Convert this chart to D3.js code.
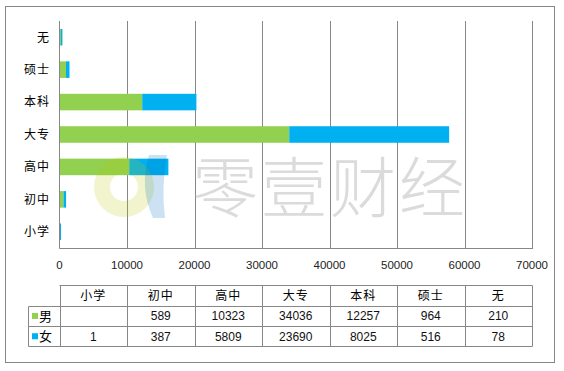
<!DOCTYPE html>
<html>
<head>
<meta charset="utf-8">
<script src="https://cdn.jsdelivr.net/npm/d3@7"></script>
<style>
  body { margin: 0; background: #fff; }
  text { font-family: "Noto Sans CJK SC", sans-serif; }
  .num { font-family: "Liberation Sans", Arial, sans-serif; }
</style>
</head>
<body>
<div id="chart"></div>
<script>
// categories bottom -> top as in the table
var categories = ["小学", "初中", "高中", "大专", "本科", "硕士", "无"];
var series = ["男", "女"];
var male = [null, 589, 10323, 34036, 12257, 964, 210];
var female = [1, 387, 5809, 23690, 8025, 516, 78];
var ticks = [0, 10000, 20000, 30000, 40000, 50000, 60000, 70000];
var colors = ["#92D050", "#00B0F0"];

var width = 564, height = 371;
var plot = {left: 59.5, right: 532, top: 21, bottom: 248};
var gridColor = "#878787";

var svg = d3.select("#chart").append("svg")
    .attr("width", width)
    .attr("height", height);

// outer frame
svg.append("rect")
    .attr("x", 5.5).attr("y", 6.5)
    .attr("width", 549).attr("height", 356)
    .attr("fill", "#fff")
    .attr("stroke", gridColor);

var x = d3.scaleLinear().domain([0, 70000]).range([plot.left, plot.right]);
var y = d3.scaleBand()
    .domain(categories.slice().reverse())
    .range([plot.top, plot.bottom])
    .paddingInner(0.49)
    .paddingOuter(0.245);

// gridlines
svg.append("g").selectAll("line")
    .data(ticks.slice(1))
    .join("line")
    .attr("x1", d => Math.round(x(d)) + 0.5)
    .attr("x2", d => Math.round(x(d)) + 0.5)
    .attr("y1", plot.top)
    .attr("y2", plot.bottom)
    .attr("stroke", gridColor);

// stacked bars
var rows = categories.map(function(c, i) {
    return {cat: c, "男": male[i] || 0, "女": female[i] || 0};
});
var stacked = d3.stack().keys(series)(rows);

svg.append("g").selectAll("g")
    .data(stacked)
    .join("g")
    .attr("fill", (d, i) => colors[i])
    .selectAll("rect")
    .data(d => d)
    .join("rect")
    .attr("x", d => x(d[0]))
    .attr("y", d => y(d.data.cat))
    .attr("height", y.bandwidth())
    .attr("width", function(d) {
        var w = x(d[1]) - x(d[0]);
        return (d[1] - d[0]) > 0 ? Math.max(1.5, w) : 0;
    });

// axes lines
svg.append("line")
    .attr("x1", plot.left).attr("x2", plot.left)
    .attr("y1", plot.top).attr("y2", plot.bottom + 0.5)
    .attr("stroke", gridColor);
svg.append("line")
    .attr("x1", plot.left).attr("x2", plot.right + 1)
    .attr("y1", plot.bottom + 0.5).attr("y2", plot.bottom + 0.5)
    .attr("stroke", gridColor);

// category labels
svg.append("g").selectAll("text")
    .data(categories)
    .join("text")
    .attr("x", 50)
    .attr("y", d => y(d) + y.bandwidth() / 2)
    .attr("dy", "0.36em")
    .attr("text-anchor", "end")
    .attr("font-size", 12)
    .attr("letter-spacing", 1)
    .text(d => d);

// x tick labels
svg.append("g").selectAll("text")
    .data(ticks)
    .join("text")
    .attr("class", "num")
    .attr("x", d => x(d))
    .attr("y", 269)
    .attr("text-anchor", "middle")
    .attr("font-size", 11.5)
    .attr("fill", "#222")
    .text(d => d);

// data table
var col = d3.scaleBand().domain(categories).range([plot.left, plot.right]);
var tTop = 285.5, rowH = 20.3;
var legendLeft = 28.5;
var tg = svg.append("g").attr("stroke", gridColor).attr("fill", "none");
// horizontal lines
tg.append("line").attr("x1", plot.left).attr("x2", plot.right + 0.5).attr("y1", tTop).attr("y2", tTop);
[1, 2, 3].forEach(function(r) {
    var yy = Math.round(tTop + r * rowH) + 0.5;
    tg.append("line").attr("x1", legendLeft).attr("x2", plot.right + 0.5).attr("y1", yy).attr("y2", yy);
});
// vertical lines
tg.append("line").attr("x1", legendLeft).attr("x2", legendLeft)
    .attr("y1", Math.round(tTop + rowH) + 0.5).attr("y2", Math.round(tTop + 3 * rowH) + 0.5);
ticks.forEach(function(t) {
    var xx = Math.round(x(t)) + 0.5;
    tg.append("line").attr("x1", xx).attr("x2", xx)
        .attr("y1", tTop).attr("y2", Math.round(tTop + 3 * rowH) + 0.5);
});

// header
svg.append("g").selectAll("text")
    .data(categories)
    .join("text")
    .attr("x", d => col(d) + col.bandwidth() / 2)
    .attr("y", tTop + rowH / 2)
    .attr("dy", "0.36em")
    .attr("text-anchor", "middle")
    .attr("font-size", 12)
    .attr("letter-spacing", 1)
    .text(d => d);

// rows
[male, female].forEach(function(vals, r) {
    var cy = tTop + rowH * (r + 1) + rowH / 2;
    svg.append("rect")
        .attr("x", 32).attr("y", cy - 3)
        .attr("width", 6).attr("height", 6)
        .attr("fill", colors[r]);
    svg.append("text")
        .attr("x", 39).attr("y", cy)
        .attr("dy", "0.36em")
        .attr("font-size", 13)
        .text(series[r]);
    svg.append("g").selectAll("text")
        .data(vals)
        .join("text")
        .attr("class", "num")
        .attr("x", (d, i) => col(categories[i]) + col.bandwidth() / 2)
        .attr("y", cy)
        .attr("dy", "0.36em")
        .attr("text-anchor", "middle")
        .attr("font-size", 12)
        .attr("fill", "#111")
        .text(d => d == null ? "" : d);
});

// watermark
var wm = svg.append("g").attr("pointer-events", "none");
wm.append("path")
    .attr("d", d3.arc().innerRadius(14).outerRadius(30).startAngle(0).endAngle(2 * Math.PI)())
    .attr("transform", "translate(124,187)")
    .attr("fill", "rgb(185,200,0)")
    .attr("fill-opacity", 0.2);
wm.append("path")
    .attr("d", "M149,155 Q139,187 153,218 L165,218 Q161,187 167,155 Z")
    .attr("fill", "rgb(0,112,192)")
    .attr("fill-opacity", 0.2);
wm.append("text")
    .attr("x", 330)
    .attr("y", 212)
    .attr("text-anchor", "middle")
    .attr("font-size", 66)
    .attr("font-weight", 300)
    .attr("letter-spacing", 3)
    .attr("fill", "#bdbdbd")
    .attr("fill-opacity", 0.55)
    .text("零壹财经");
</script>
</body>
</html>
